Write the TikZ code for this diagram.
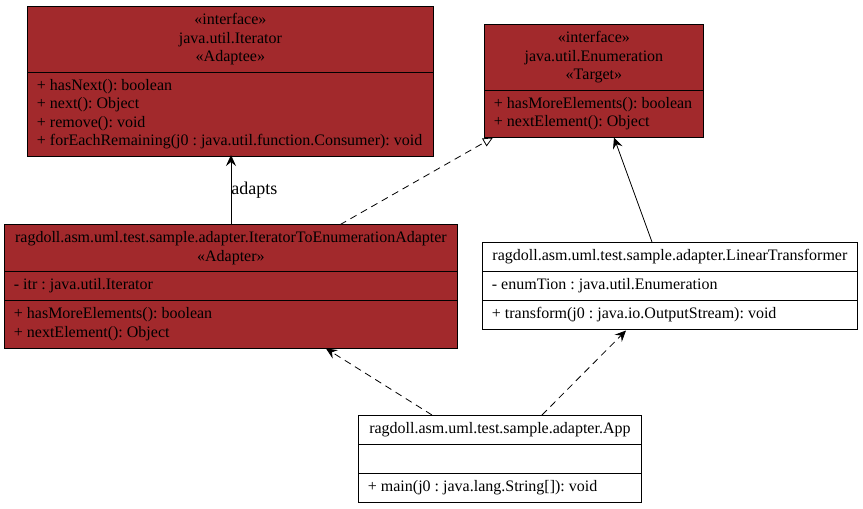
\documentclass[tikz,border=0pt]{standalone}
\usepackage{fontspec}
\setmainfont{Liberation Serif}
\usetikzlibrary{shapes.multipart,arrows.meta}

\definecolor{umlred}{RGB}{162,41,44}

% one compartment of a class box, centred or flush left
\newcommand{\umlhead}[2]{\parbox{#1}{\centering\strut #2\strut}}
\newcommand{\umlbody}[2]{\parbox{#1}{\raggedright\strut #2\strut}}

\tikzstyle{umlclass} = [rectangle split, rectangle split parts=3, draw=black, thick, anchor=north west, inner xsep=9.5pt, inner ysep=4.8pt, font=\fontsize{16}{18.5}\selectfont\frenchspacing]
\tikzstyle{umlclassii} = [umlclass, rectangle split parts=2]
\tikzstyle{adaptee} = [fill=umlred]
\tikzstyle{plain} = [fill=white]
\tikzstyle{uses} = [-{Stealth[length=11pt,width=10pt,inset=4pt]}, thick]
\tikzstyle{depends} = [uses, dashed, dash pattern=on 7pt off 5pt]
\tikzstyle{realizes} = [-{Triangle[open,length=10pt,width=9pt]}, thick, dashed, dash pattern=on 7pt off 5pt]

\begin{document}
\begin{tikzpicture}[x=1pt,y=-1pt]
\useasboundingbox (0,0) rectangle (863,509);

\node (iterator) [umlclassii, adaptee] at (27,6)
{\umlhead{387pt}{«interface»\\java.util.Iterator\\«Adaptee»}
\nodepart{second}\umlbody{387pt}{+ hasNext(): boolean\\+ next(): Object\\+ remove(): void\\+ forEachRemaining(j0 : java.util.function.Consumer): void}};

\node (enumeration) [umlclassii, adaptee] at (484,24)
{\umlhead{200pt}{«interface»\\java.util.Enumeration\\«Target»}
\nodepart{second}\umlbody{200pt}{+ hasMoreElements(): boolean\\+ nextElement(): Object}};

\node (adapter) [umlclass, adaptee] at (4,224)
{\umlhead{434pt}{ragdoll.asm.uml.test.sample.adapter.IteratorToEnumerationAdapter\\«Adapter»}
\nodepart{second}\umlbody{434pt}{- itr : java.util.Iterator}
\nodepart{third}\umlbody{434pt}{+ hasMoreElements(): boolean\\+ nextElement(): Object}};

\node (transformer) [umlclass, plain] at (482,242)
{\umlhead{356pt}{ragdoll.asm.uml.test.sample.adapter.LinearTransformer}
\nodepart{second}\umlbody{356pt}{- enumTion : java.util.Enumeration}
\nodepart{third}\umlbody{356pt}{+ transform(j0 : java.io.OutputStream): void}};

\node (app) [umlclass, plain] at (358,415)
{\umlhead{264pt}{ragdoll.asm.uml.test.sample.adapter.App}
\nodepart{second}\umlbody{264pt}{}
\nodepart{third}\umlbody{264pt}{+ main(j0 : java.lang.String[]): void}};

\coordinate (adapterTop) at (231,224.7);
\coordinate (iteratorBot) at (231,155);
\draw [uses] (adapterTop) -- (iteratorBot) node [midway, anchor=west, inner sep=0pt, font=\fontsize{18}{20}\selectfont] {adapts};

\coordinate (adapterTopR) at (340,224.7);
\coordinate (enumBotL) at (493,137.5);
\draw [realizes] (adapterTopR) -- (enumBotL);

\coordinate (transTop) at (652,242);
\coordinate (enumBotR) at (614,137.5);
\draw [uses] (transTop) -- (enumBotR);

\coordinate (appTopL) at (432,415);
\coordinate (adapterBot) at (326,348.5);
\draw [depends] (appTopL) -- (adapterBot);

\coordinate (appTopR) at (542,415);
\coordinate (transBot) at (626,330.5);
\draw [depends] (appTopR) -- (transBot);
\end{tikzpicture}
\end{document}
